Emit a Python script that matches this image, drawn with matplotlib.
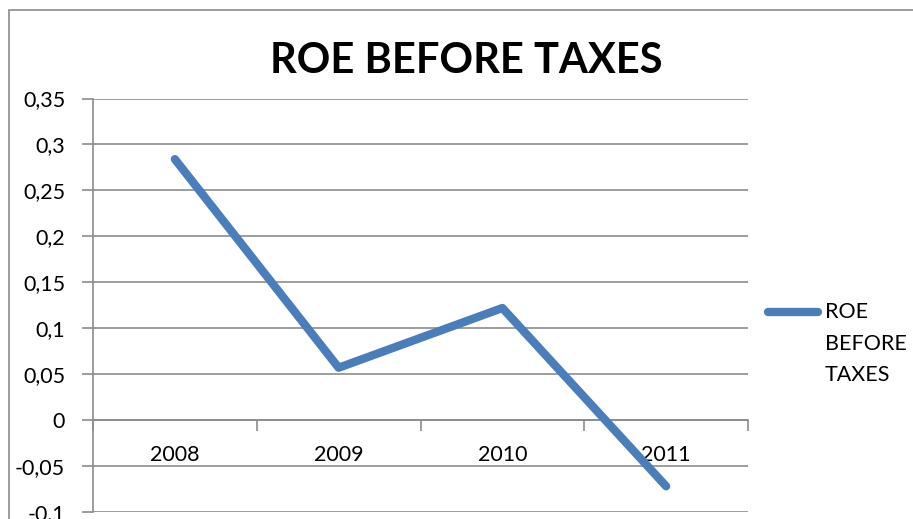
import matplotlib
matplotlib.use("Agg")
import matplotlib.pyplot as plt
from matplotlib.patches import Rectangle
from matplotlib.lines import Line2D
from matplotlib.ticker import FuncFormatter

plt.rcParams["font.family"] = ["Lato", "DejaVu Sans"]

years = ["2008", "2009", "2010", "2011"]
roe = [0.284, 0.057, 0.122, -0.072]
yticks = [-0.1, -0.05, 0, 0.05, 0.1, 0.15, 0.2, 0.25, 0.3, 0.35]
serie = "ROE\nBEFORE\nTAXES"

BLUE = "#4a7ebb"; GRID = "#8c8c8c"; FS = 15.5

fig = plt.figure(figsize=(9.13, 5.19), dpi=100)
# marco del gráfico (se sale por derecha y abajo)
fig.patches.append(Rectangle((9/913, -0.1), 1.2, 1 - 9.5/519 + 0.1, transform=fig.transFigure,
                             fill=False, edgecolor="#8a8a8a", linewidth=1.2))

ax = fig.add_axes([93/913, 1 - 512/519, (748 - 93)/913, (512 - 98.5)/519])
x = list(range(1, len(years) + 1))
ax.plot(x, roe, color=BLUE, linewidth=6, solid_capstyle="round", zorder=3)

ax.set_xlim(0.5, len(years) + 0.5)
ax.set_ylim(-0.1, 0.35)
ax.set_yticks(yticks)
ax.yaxis.set_major_formatter(FuncFormatter(lambda v, p: ("%g" % round(v, 2)).replace(".", ",")))
ax.grid(axis="y", color=GRID, linewidth=1.2)
ax.tick_params(axis="y", length=8, width=1.2, color=GRID, pad=12, labelsize=FS)

# eje de categorías sobre la línea del cero
ax.spines["bottom"].set_position(("data", 0))
ax.spines["bottom"].set_color(GRID); ax.spines["bottom"].set_linewidth(1.2)
ax.set_xticks([i + 0.5 for i in range(len(years) + 1)])
ax.set_xticklabels([])
ax.set_xticks(x, minor=True)
ax.set_xticklabels(years, minor=True)
ax.tick_params(axis="x", which="major", direction="out", length=8, width=1.2, color=GRID)
ax.tick_params(axis="x", which="minor", length=0, pad=18, labelsize=FS)
for s in ("top", "right"):
    ax.spines[s].set_visible(False)
ax.spines["left"].set_color(GRID); ax.spines["left"].set_linewidth(1.2)
ax.set_axisbelow(True)

fig.text(466/913, 1 - 61/519, "ROE BEFORE TAXES", ha="center", va="center",
         fontsize=30, fontweight="bold")

# leyenda: muestra de línea junto a la primera línea del nombre
ly = 1 - 312/519
fig.add_artist(Line2D([768/913, 818/913], [ly, ly], transform=fig.transFigure,
                      color=BLUE, linewidth=6, solid_capstyle="round"))
fig.text(825/913, 1 - 302/519, serie, ha="left", va="top", fontsize=FS, linespacing=1.72)

fig.savefig("out.png", dpi=100)
